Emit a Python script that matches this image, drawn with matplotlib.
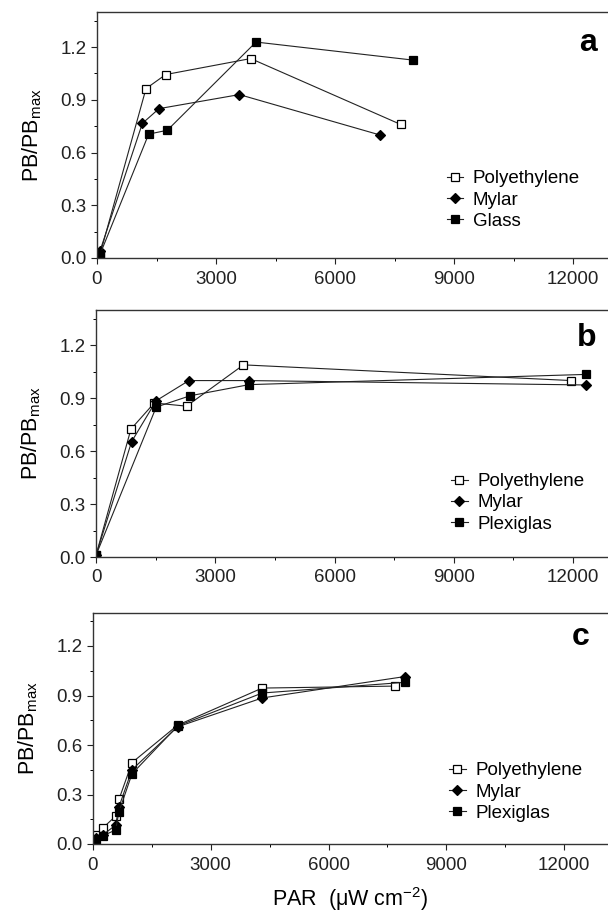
import numpy as np
import matplotlib
matplotlib.use('Agg')
import matplotlib.pyplot as plt
from matplotlib.ticker import MultipleLocator

plt.rcParams['font.family'] = ['Liberation Sans', 'DejaVu Sans']
plt.rcParams['mathtext.fontset'] = 'custom'
plt.rcParams['mathtext.rm'] = 'Liberation Sans'
plt.rcParams['mathtext.it'] = 'Liberation Sans'

# ------------------------------------------------------------------------- #
# panel a
a_poly_x = [75, 1235, 1731, 3874, 7655]
a_poly_y = [0.02, 0.964, 1.044, 1.135, 0.76]
a_mylar_x = [75, 1143, 1563, 3588, 7134]
a_mylar_y = [0.04, 0.766, 0.85, 0.93, 0.70]
a_glass_x = [75, 1302, 1773, 4008, 7975]
a_glass_y = [0.02, 0.705, 0.727, 1.229, 1.126]

# panel b
b_poly_x = [0, 879, 1465, 2278, 3710, 11960]
b_poly_y = [0.01, 0.725, 0.873, 0.855, 1.089, 1.0]
b_mylar_x = [0, 896, 1515, 2337, 3852, 12330]
b_mylar_y = [0.01, 0.654, 0.886, 1.0, 1.0, 0.975]
b_plexi_x = [0, 1515, 2370, 3852, 12330]
b_plexi_y = [0.01, 0.85, 0.914, 0.977, 1.035]

# panel c
c_x = [84, 254, 576, 661, 993, 2154, 4310]
c_poly_x = c_x + [7688]
c_poly_y = [0.052, 0.098, 0.169, 0.27, 0.493, 0.72, 0.945, 0.957]
c_mylar_x = c_x + [7950]
c_mylar_y = [0.035, 0.055, 0.115, 0.225, 0.45, 0.71, 0.885, 1.015]
c_plexi_x = c_x + [7950]
c_plexi_y = [0.025, 0.05, 0.085, 0.195, 0.425, 0.715, 0.915, 0.98]

x_ticks = [0, 3000, 6000, 9000, 12000]
y_ticks = [0.0, 0.3, 0.6, 0.9, 1.2]

# ------------------------------------------------------------------------- #
fig = plt.figure(figsize=(6.08, 9.15), dpi=100)

# [left, bottom, height (px), xmax, legend x, legend y, letter x, letter y]
layout = [
    [97, 258, 246, 12880, 0.684, 0.236, 0.978, 0.874],
    [96, 557, 247, 12880, 0.693, 0.219, 0.978, 0.887],
    [93, 844, 231, 13120, 0.691, 0.225, 0.965, 0.896],
]
panels = [
    ('a', [(a_poly_x, a_poly_y, 'Polyethylene', 's', 'white'),
           (a_mylar_x, a_mylar_y, 'Mylar', 'D', 'black'),
           (a_glass_x, a_glass_y, 'Glass', 's', 'black')]),
    ('b', [(b_poly_x, b_poly_y, 'Polyethylene', 's', 'white'),
           (b_mylar_x, b_mylar_y, 'Mylar', 'D', 'black'),
           (b_plexi_x, b_plexi_y, 'Plexiglas', 's', 'black')]),
    ('c', [(c_poly_x, c_poly_y, 'Polyethylene', 's', 'white'),
           (c_mylar_x, c_mylar_y, 'Mylar', 'D', 'black'),
           (c_plexi_x, c_plexi_y, 'Plexiglas', 's', 'black')]),
]

W, H = 608., 915.
for i in range(3):
    left, bot, hgt, xmax, lx, ly, tx, ty = layout[i]
    ax = fig.add_axes([left/W, 1 - bot/H, 1 - left/W, hgt/H])
    letter, series = panels[i]
    for xs, ys, lab, mk, fc in series:
        ms = 5.0 if mk == 'D' else 5.5
        ax.plot(xs, ys, color='#222222', lw=0.8, marker=mk, ms=ms,
                mfc=fc, mec='black', mew=0.9, label=lab)
    ax.set_xlim(0, xmax)
    ax.set_ylim(0, 1.4)
    ax.set_xticks(x_ticks)
    ax.set_yticks(y_ticks)
    ax.set_yticklabels(['%0.1f' % v for v in y_ticks])
    ax.xaxis.set_minor_locator(MultipleLocator(1500))
    ax.yaxis.set_minor_locator(MultipleLocator(0.15))
    ax.tick_params(which='major', direction='out', length=4, width=0.8,
                   labelsize=13.5, colors='#222222')
    ax.tick_params(which='minor', direction='out', length=2.5, width=0.7)
    ax.tick_params(axis='x', pad=5)
    ax.spines['right'].set_visible(False)
    for s in ['left', 'top', 'bottom']:
        ax.spines[s].set_linewidth(1.0)
        ax.spines[s].set_color('#333333')
    ax.set_ylabel(r'PB/PB$_{\mathrm{max}}$', fontsize=15.5, labelpad=12)
    ax.text(tx, ty, letter, transform=ax.transAxes, ha='right', va='center',
            fontsize=23, fontweight='bold')
    ax.legend(loc='center left', bbox_to_anchor=(lx, ly), frameon=False,
              fontsize=13.5, handlelength=0.9, handletextpad=0.5,
              labelspacing=0.22, borderpad=0, borderaxespad=0)
    if i == 2:
        ax.set_xlabel(r'PAR  ($\mathrm{\mu}$W cm$^{-2}$)', fontsize=15.5,
                      labelpad=8)

fig.savefig('out.png', dpi=100)
